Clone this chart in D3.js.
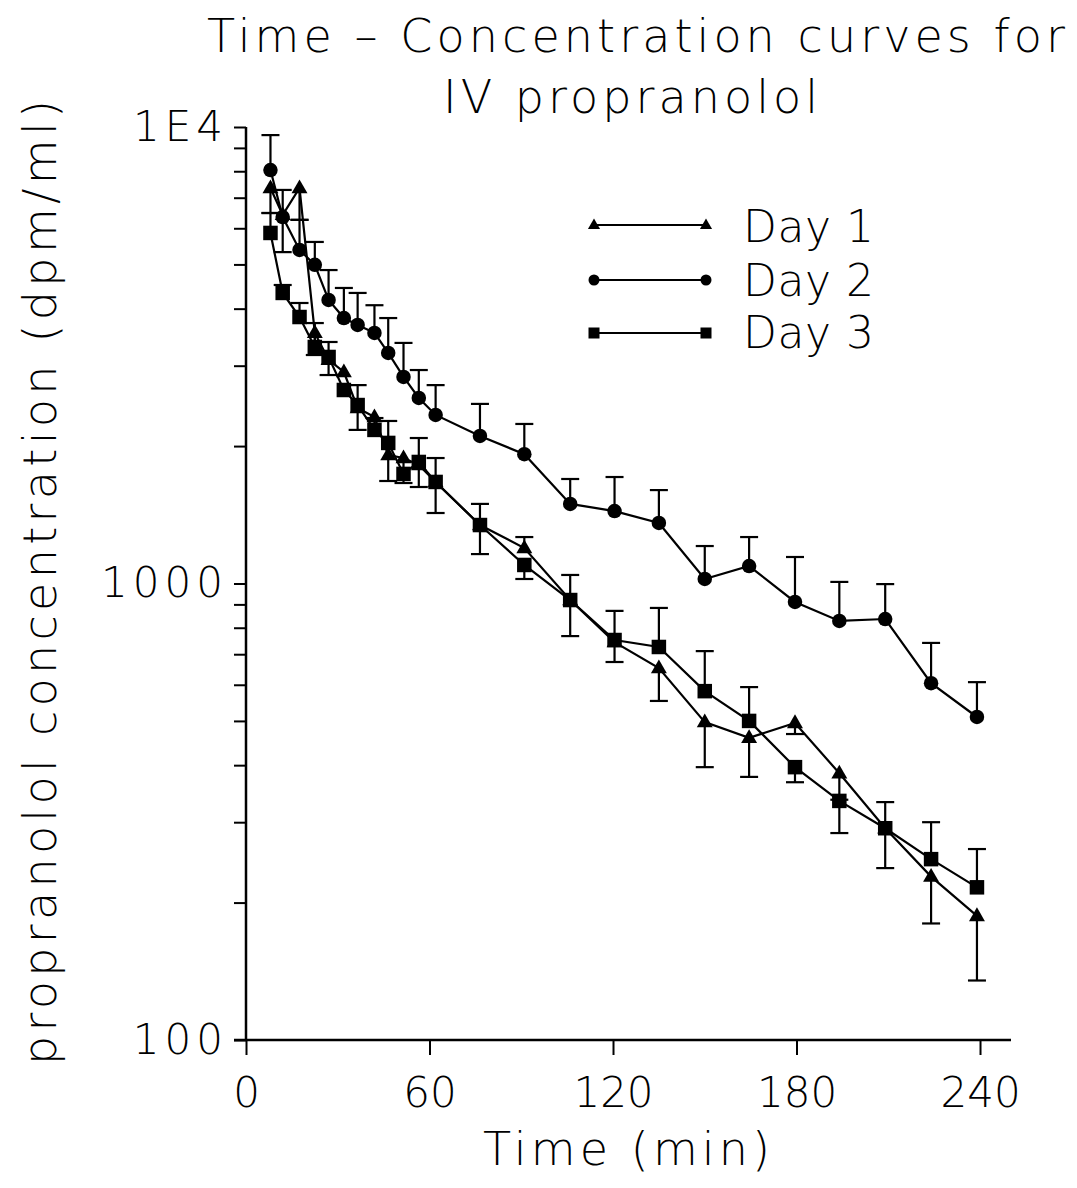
<!DOCTYPE html>
<html><head><meta charset="utf-8">
<script src="https://cdn.jsdelivr.net/npm/d3@7"></script>
<style>body{margin:0;background:#fff} text{font-weight:200}</style>
</head><body><svg id="c" width="1077" height="1188"></svg>
<script>
const titleLines = ["Time – Concentration curves for", "IV propranolol"];
const xTitle = "Time (min)";
const yTitle = "propranolol concentration (dpm/ml)";
const xTicks = [0, 60, 120, 180, 240];
const yMajor = [100, 1000, 10000];
const yMajorLabels = ["100", "1000", "1E4"];
const yMinor = [200,300,400,500,600,700,800,900,2000,3000,4000,5000,6000,7000,8000,9000];
const seriesNames = ["Day 1", "Day 2", "Day 3"];

const times = [8, 12, 17.5, 22.5, 27, 32, 36.5, 42, 46.5, 51.5, 56.5, 62, 76.5, 91, 106, 120.5, 135, 150, 164.5, 179.5, 194, 209, 224, 239];

const day1 = [7350, 6420, 7350, 3540, 3090, 2906, 2424, 2315, 1912, 1883, 1818, 1669, 1343, 1196, 920, 744, 653, 497, 459, 495, 384, 291, 228, 187];
const day1Low = [6480, 5320, 6260, 3166, 2862, null, 2170, null, 1677, 1660, 1627, 1427, 1160, null, 767, 673, 553, 396, 377, 468, 336, 238, 180, 135];
const day1High = [null, null, null, null, null, null, null, null, null, null, null, null, null, 1264, null, null, null, null, null, null, null, null, null, null];

const day2 = [8050, 6350, 5380, 4990, 4180, 3815, 3685, 3540, 3200, 2835, 2550, 2340, 2105, 1920, 1494, 1441, 1357, 1023, 1092, 911, 828, 836, 605, 510];
const day2Low = [null, null, null, null, null, null, null, null, null, null, null, null, null, null, null, null, null, null, null, null, null, null, null, null];
const day2High = [9600, 7280, 6260, 5600, 4860, 4440, 4330, 4070, 3815, 3365, 2935, 2720, 2474, 2236, 1694, 1711, 1602, 1208, 1264, 1143, 1008, 997, 741, 608];

const day3 = [5860, 4330, 3835, 3297, 3135, 2654, 2460, 2170, 2032, 1738, 1846, 1669, 1343, 1098, 920, 752, 726, 581, 500, 396, 334, 291, 249, 216];
const day3Low = [null, null, null, null, null, null, null, null, null, null, null, null, null, 1023, null, null, null, null, null, 367, 284, null, null, null];
const day3High = [6480, 4507, 4116, 3720, 3381, null, 2720, 2304, 2270, null, 2083, 1883, 1494, null, 1044, 871, 884, 711, 593, null, null, 332, 300, 262];

const FONT = "'DejaVu Sans', 'Liberation Sans', sans-serif";
const svg = d3.select("#c");
svg.append("rect").attr("width",1077).attr("height",1188).attr("fill","#fff");

const x = d3.scaleLinear().domain([0, 250]).range([246, 1010.6]);
const y = d3.scaleLog().domain([100, 10000]).range([1040, 127]);

// Titles
svg.append("text").attr("x",207).attr("y",52).attr("font-family",FONT).attr("font-size",46)
  .attr("textLength",858).attr("lengthAdjust","spacing").text(titleLines[0]);
svg.append("text").attr("x",443).attr("y",113).attr("font-family",FONT).attr("font-size",46)
  .attr("textLength",375).attr("lengthAdjust","spacing").text(titleLines[1]);
svg.append("text").attr("x",483).attr("y",1165).attr("font-family",FONT).attr("font-size",46)
  .attr("textLength",287).attr("lengthAdjust","spacing").text(xTitle);
svg.append("text").attr("transform","translate(56,1065) rotate(-90)").attr("font-family",FONT).attr("font-size",46)
  .attr("textLength",965).attr("lengthAdjust","spacing").text(yTitle);

// X axis
const xAxis = d3.axisBottom(x).tickValues(xTicks).tickFormat(d3.format("d")).tickSize(15).tickSizeOuter(0).tickPadding(22);
const gx = svg.append("g").attr("transform","translate(0,1040)").call(xAxis);
gx.select(".domain").remove();
gx.selectAll("line").attr("stroke","#000").attr("stroke-width",2);
gx.selectAll("text").attr("font-family",FONT).attr("font-size",42).attr("fill","#000");
svg.append("line").attr("x1",234).attr("x2",1011).attr("y1",1040).attr("y2",1040).attr("stroke","#000").attr("stroke-width",2.5);

// Y axis
const yAxis = d3.axisLeft(y).tickValues(yMajor.concat(yMinor))
  .tickFormat(d => { const i = yMajor.indexOf(d); return i >= 0 ? yMajorLabels[i] : ""; })
  .tickSize(12).tickSizeOuter(0).tickPadding(6);
const gy = svg.append("g").attr("transform","translate(246,0)").call(yAxis);
gy.select(".domain").remove();
gy.selectAll("line").attr("stroke","#000").attr("stroke-width",2);
gy.selectAll("text").attr("font-family",FONT).attr("font-size",42).attr("fill","#000").attr("letter-spacing",5);
svg.append("line").attr("x1",246).attr("x2",246).attr("y1",y(10000)).attr("y2",1040).attr("stroke","#000").attr("stroke-width",2.5);

// Series
const series = [
  {name: seriesNames[0], vals: day1, lo: day1Low, hi: day1High, shape: "tri"},
  {name: seriesNames[1], vals: day2, lo: day2Low, hi: day2High, shape: "circ"},
  {name: seriesNames[2], vals: day3, lo: day3Low, hi: day3High, shape: "sq"}
];

function marker(g, shape, cx, cy, s) {
  if (shape === "tri") {
    const h = s * 0.95, w = s * 1.1;
    g.append("path").attr("d", `M${cx},${cy - h*0.62}L${cx + w/2},${cy + h*0.38}L${cx - w/2},${cy + h*0.38}Z`).attr("fill","#000");
  } else if (shape === "circ") {
    g.append("circle").attr("cx",cx).attr("cy",cy).attr("r",s/2).attr("fill","#000");
  } else {
    g.append("rect").attr("x",cx - s/2).attr("y",cy - s/2).attr("width",s).attr("height",s).attr("fill","#000");
  }
}

const line = d3.line().x(d => x(d[0])).y(d => y(d[1]));
const gData = svg.append("g");
series.forEach(s => {
  const pts = times.map((t,i) => [t, s.vals[i]]);
  gData.append("path").datum(pts).attr("d", line).attr("fill","none").attr("stroke","#000").attr("stroke-width",2.2);
  times.forEach((t,i) => {
    const cx = x(t), cy = y(s.vals[i]);
    [s.lo[i], s.hi[i]].forEach(e => {
      if (e == null) return;
      const ey = y(e);
      gData.append("line").attr("x1",cx).attr("x2",cx).attr("y1",cy).attr("y2",ey).attr("stroke","#000").attr("stroke-width",2.2);
      gData.append("line").attr("x1",cx-9).attr("x2",cx+9).attr("y1",ey).attr("y2",ey).attr("stroke","#000").attr("stroke-width",2.2);
    });
  });
});
series.forEach(s => {
  times.forEach((t,i) => marker(gData, s.shape, x(t), y(s.vals[i]), 14.5));
});

// Legend
const legY = [225, 280, 333];
const legTextY = [242, 296, 348];
series.forEach((s,i) => {
  svg.append("line").attr("x1",597).attr("x2",705).attr("y1",legY[i]).attr("y2",legY[i]).attr("stroke","#000").attr("stroke-width",1.8);
  marker(svg, s.shape, 594, legY[i], 11);
  marker(svg, s.shape, 706, legY[i], 11);
  svg.append("text").attr("x",743).attr("y",legTextY[i]).attr("font-family",FONT).attr("font-size",44)
    .attr("textLength",131).attr("lengthAdjust","spacing").text(s.name);
});
</script></body></html>
